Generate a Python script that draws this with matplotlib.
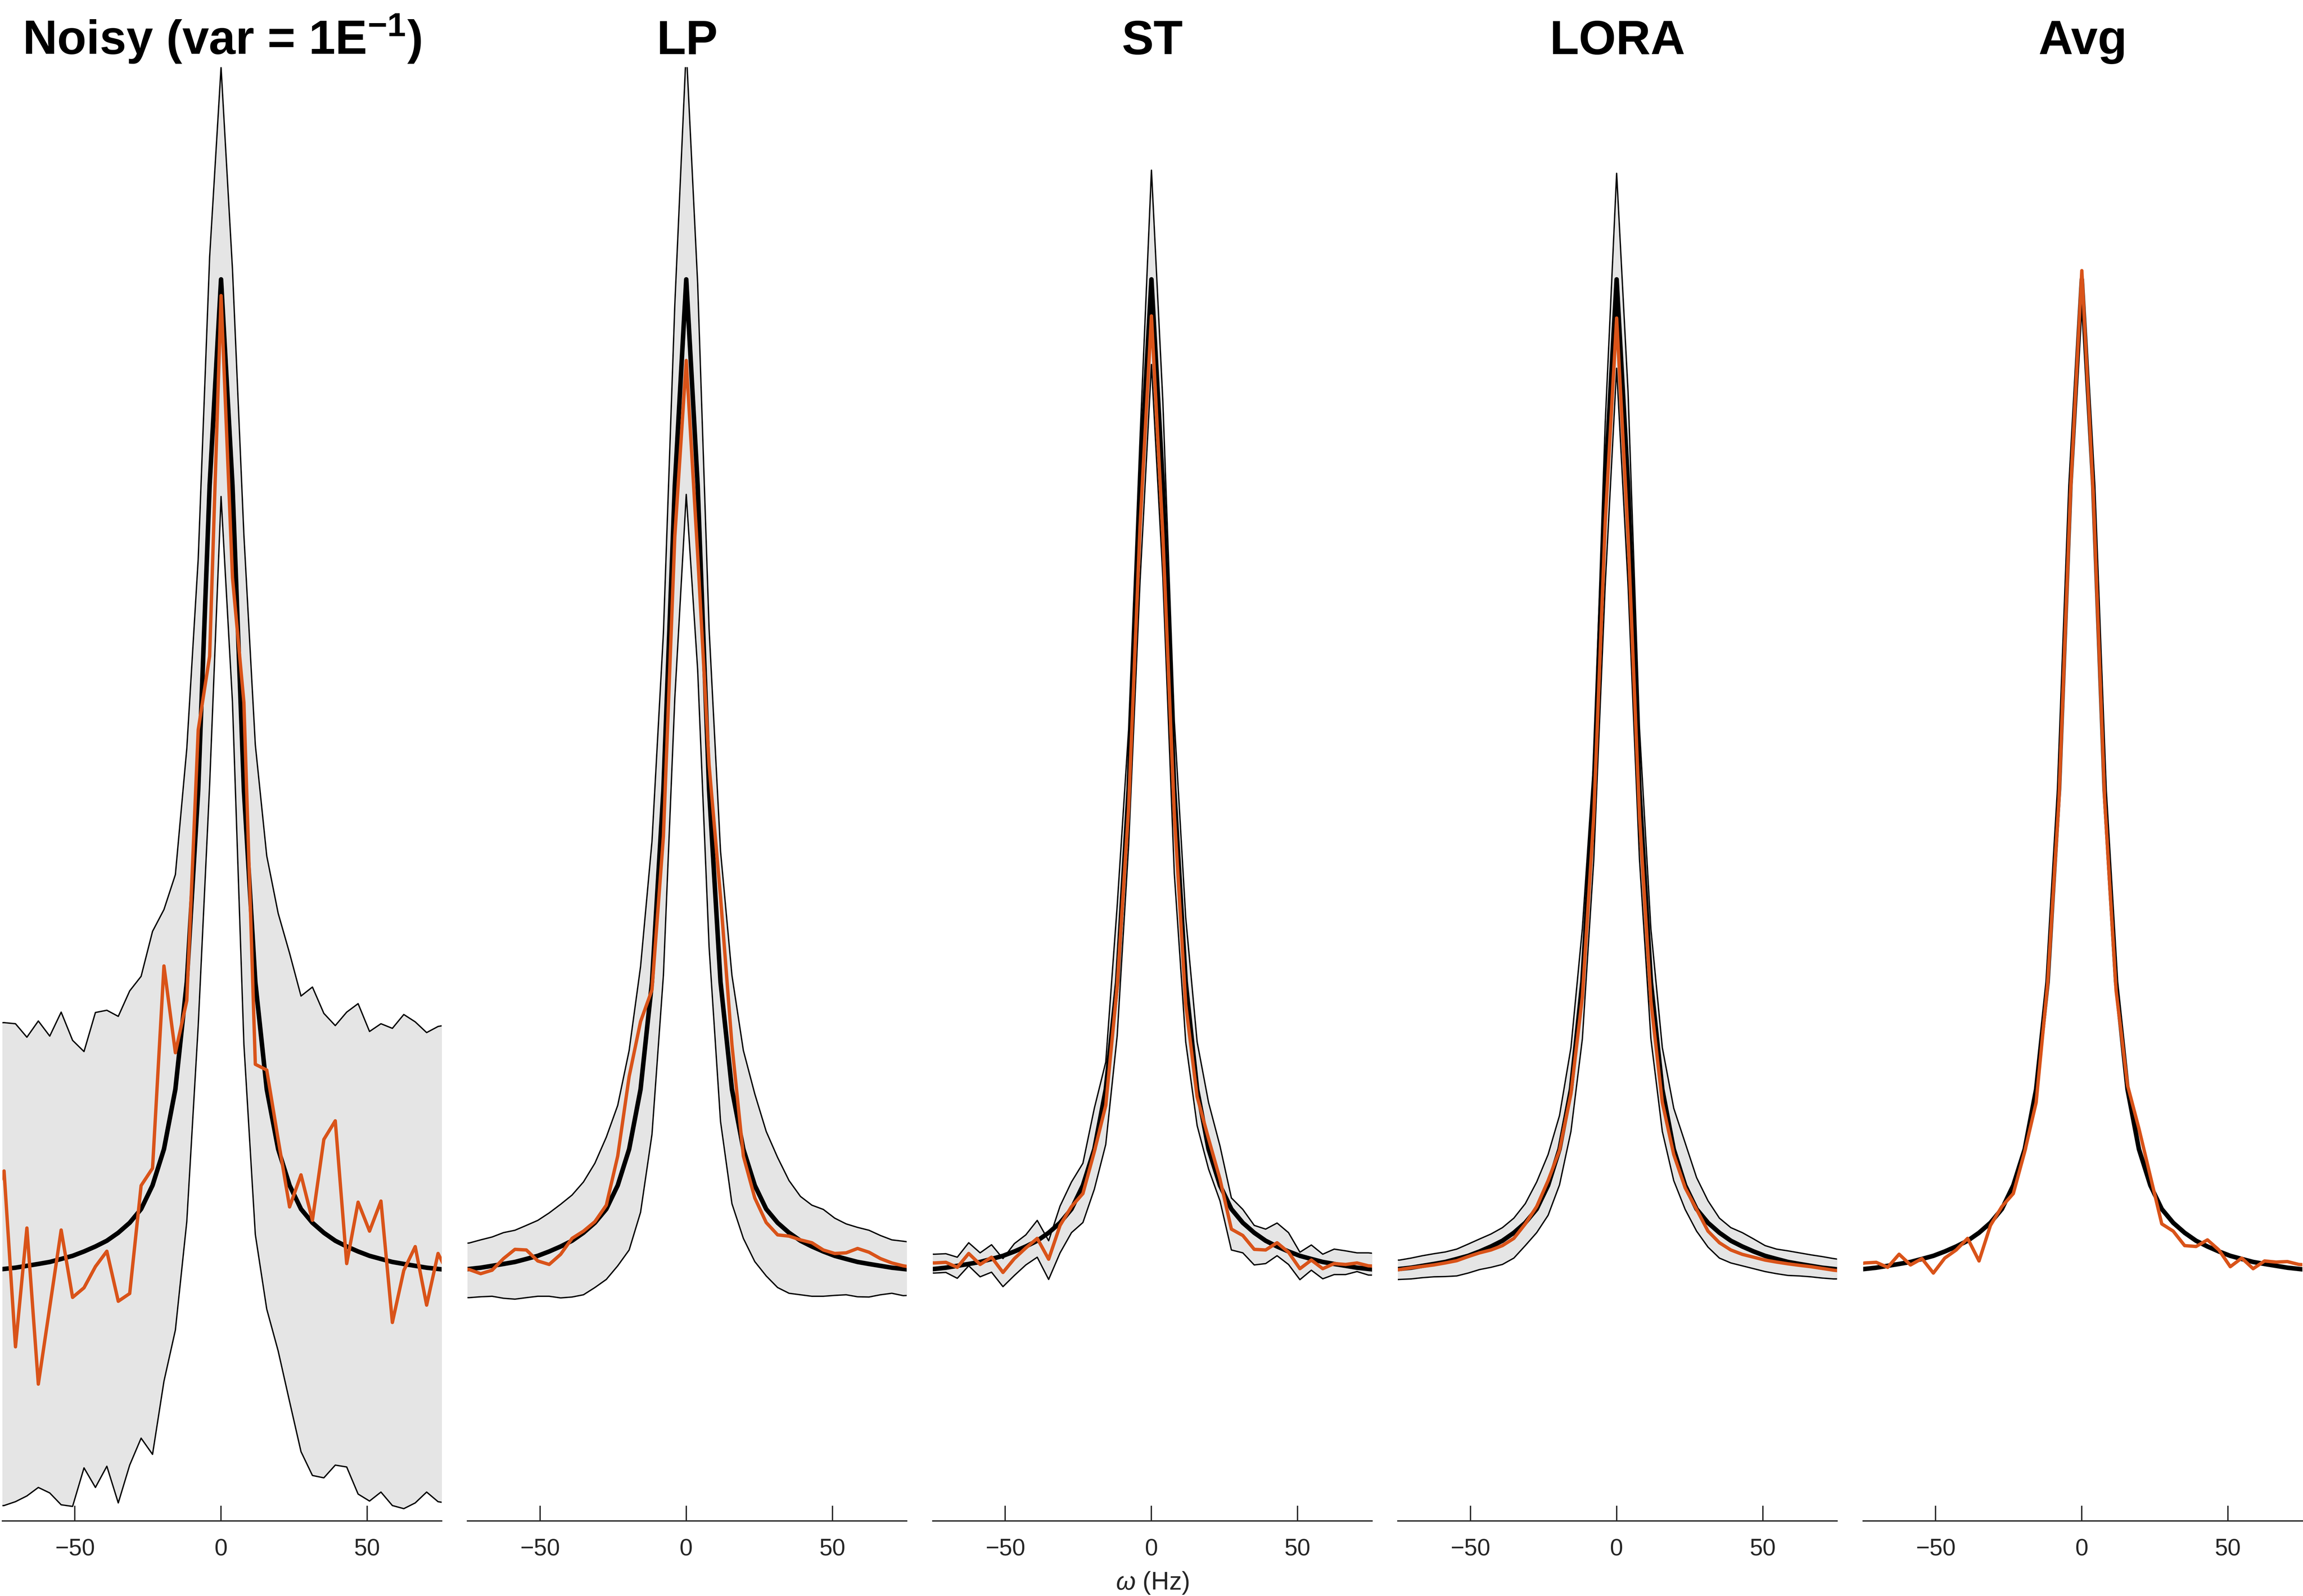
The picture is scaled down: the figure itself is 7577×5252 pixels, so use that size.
import matplotlib.pyplot as plt
import numpy as np

plt.rcParams['font.family'] = ['Liberation Sans', 'DejaVu Sans']
plt.rcParams['mathtext.fontset'] = 'custom'
plt.rcParams['mathtext.rm'] = 'Liberation Sans'
plt.rcParams['mathtext.it'] = 'Liberation Sans:italic'
plt.rcParams['mathtext.bf'] = 'Liberation Sans:bold'

# frequency bins (Hz), k = -20 .. 20, bin width 1000/256 Hz
freq = np.arange(-20, 21) * 3.90625

titles = [r'Noisy (var = 1E$^{\mathbf{-1}}$)', 'LP', 'ST', 'LORA', 'Avg']

# true spectrum (same in every panel)
true_spec = [0.201, 0.202, 0.203, 0.2045, 0.206, 0.2076, 0.210, 0.2125, 0.216, 0.220,
             0.2246, 0.231, 0.239, 0.250, 0.269, 0.298, 0.346, 0.432, 0.586, 0.830,
             0.995,
             0.830, 0.586, 0.432, 0.346, 0.298, 0.269, 0.250, 0.239, 0.231, 0.2246,
             0.220, 0.216, 0.2125, 0.210, 0.2076, 0.206, 0.2045, 0.203, 0.202, 0.201]

# Noisy
noisy_est = [0.254, 0.2805, 0.1396, 0.2348, 0.1097, 0.1714, 0.2332, 0.1792, 0.1869, 0.2039,
             0.2162, 0.1761, 0.1823, 0.2688, 0.2827, 0.4448, 0.3753, 0.417, 0.634, 0.693,
             0.982,
             0.756, 0.656, 0.366, 0.3614, 0.3058, 0.2517, 0.2774, 0.241, 0.3058, 0.3207,
             0.2063, 0.2555, 0.2323, 0.2564, 0.1591, 0.2008, 0.2199, 0.173, 0.2144, 0.196]
noisy_upper = [0.399, 0.3994, 0.3985, 0.3877, 0.4007, 0.3886, 0.4078, 0.3852, 0.3762, 0.4075,
               0.4093, 0.4044, 0.4248, 0.4365, 0.4725, 0.490, 0.518, 0.619, 0.771, 1.013,
               1.165,
               1.003, 0.790, 0.622, 0.533, 0.487, 0.455, 0.4207, 0.4279, 0.4068, 0.397,
               0.4078, 0.4146, 0.3923, 0.3985, 0.3948, 0.4059, 0.400, 0.3914, 0.3963, 0.398]
noisy_lower = [0.012, 0.0124, 0.0155, 0.0201, 0.0269, 0.0225, 0.013, 0.0117, 0.0426, 0.0269,
               0.0439, 0.0145, 0.0448, 0.0664, 0.0534, 0.112, 0.153, 0.240, 0.397, 0.590,
               0.821,
               0.656, 0.382, 0.2296, 0.1698, 0.1363, 0.0957, 0.0556, 0.0365, 0.0346, 0.0448,
               0.0433, 0.0216, 0.016, 0.0232, 0.0124, 0.0099, 0.0145, 0.0232, 0.0155, 0.014]

# LP
lp_est = [0.203, 0.2015, 0.1982, 0.201, 0.2103, 0.2177, 0.2172, 0.2084, 0.2056, 0.2137,
          0.2265, 0.2323, 0.2399, 0.2531, 0.2925, 0.3562, 0.4003, 0.4257, 0.5486, 0.789,
          0.930,
          0.7745, 0.606, 0.500, 0.3817, 0.2925, 0.2589, 0.2392, 0.2293, 0.2283, 0.2253,
          0.223, 0.2172, 0.2144, 0.2149, 0.2184, 0.2154, 0.2103, 0.2068, 0.2045, 0.203]
lp_upper = [0.222, 0.2228, 0.2253, 0.2276, 0.2311, 0.233, 0.2369, 0.2409, 0.2469, 0.2538,
            0.2612, 0.2717, 0.2867, 0.3076, 0.3331, 0.3771, 0.4443, 0.5447, 0.7116, 0.975,
            1.180,
            0.9915, 0.715, 0.537, 0.4373, 0.3771, 0.3423, 0.3122, 0.2913, 0.2728, 0.2601,
            0.2531, 0.2497, 0.2427, 0.2381, 0.2353, 0.233, 0.2288, 0.2253, 0.2242, 0.223]
lp_lower = [0.179, 0.179, 0.1797, 0.1801, 0.1785, 0.1778, 0.179, 0.1801, 0.1801, 0.1788,
            0.1795, 0.1813, 0.1871, 0.1936, 0.2045, 0.2172, 0.2474, 0.3099, 0.4373, 0.6597,
            0.8227,
            0.682, 0.460, 0.3203, 0.2543, 0.2265, 0.2079, 0.1964, 0.1871, 0.1825, 0.1813,
            0.1801, 0.1801, 0.1808, 0.1813, 0.1797, 0.1795, 0.1813, 0.1825, 0.1806, 0.181]

# ST
st_est = [0.207, 0.2068, 0.2073, 0.2033, 0.2144, 0.2056, 0.2114, 0.1992, 0.2103, 0.2188,
          0.2265, 0.2098, 0.2369, 0.252, 0.2624, 0.296, 0.3331, 0.4281, 0.571, 0.797,
          0.9657,
          0.7897, 0.567, 0.4142, 0.340, 0.3064, 0.274, 0.2339, 0.2288, 0.2177, 0.2172,
          0.223, 0.2154, 0.2022, 0.2091, 0.2022, 0.2063, 0.2056, 0.2068, 0.2045, 0.204]
st_upper = [0.214, 0.2138, 0.2142, 0.2114, 0.223, 0.2149, 0.2214, 0.2103, 0.2223, 0.2293,
            0.2409, 0.2246, 0.2524, 0.2717, 0.2867, 0.3308, 0.3678, 0.493, 0.634, 0.8675,
            1.0825,
            0.8972, 0.6414, 0.4837, 0.384, 0.3354, 0.3006, 0.2589, 0.2497, 0.2369, 0.2339,
            0.2388, 0.2311, 0.2154, 0.2212, 0.2138, 0.2179, 0.2165, 0.2149, 0.2149, 0.214]
st_lower = [0.199, 0.1987, 0.1992, 0.1945, 0.2045, 0.1957, 0.1994, 0.1878, 0.1968, 0.2052,
            0.2114, 0.1936, 0.2149, 0.2311, 0.2392, 0.2659, 0.3018, 0.3887, 0.541, 0.7526,
            0.9268,
            0.756, 0.519, 0.384, 0.3169, 0.2821, 0.2566, 0.2172, 0.2149, 0.2052, 0.2063,
            0.2126, 0.2056, 0.1934, 0.201, 0.1941, 0.1975, 0.1975, 0.1999, 0.1971, 0.197]

# LORA
lora_est = [0.201, 0.2015, 0.2029, 0.204, 0.2052, 0.2068, 0.2086, 0.2119, 0.2149, 0.2172,
            0.2207, 0.2265, 0.2381, 0.252, 0.2728, 0.2971, 0.3423, 0.420, 0.565, 0.800,
            0.964,
            0.790, 0.565, 0.4165, 0.3354, 0.2937, 0.267, 0.2497, 0.2323, 0.223, 0.2172,
            0.2137, 0.2114, 0.2091, 0.2075, 0.2061, 0.2049, 0.2038, 0.2024, 0.201, 0.200]
lora_upper = [0.209, 0.2091, 0.2107, 0.2126, 0.2142, 0.2156, 0.2179, 0.2219, 0.226, 0.230,
              0.2351, 0.2427, 0.2543, 0.2717, 0.2937, 0.325, 0.3794, 0.475, 0.610, 0.880,
              1.080,
              0.905, 0.635, 0.4744, 0.3794, 0.3308, 0.303, 0.2752, 0.2566, 0.2427, 0.2351,
              0.2311, 0.226, 0.2207, 0.2179, 0.2165, 0.2149, 0.2133, 0.2119, 0.2103, 0.209]
lora_lower = [0.193, 0.1936, 0.194, 0.195, 0.1957, 0.1959, 0.1964, 0.1987, 0.2015, 0.2033,
              0.2056, 0.2107, 0.2207, 0.2311, 0.245, 0.2694, 0.3122, 0.3864, 0.530, 0.750,
              0.9238,
              0.750, 0.530, 0.3864, 0.3122, 0.2728, 0.2497, 0.2323, 0.2195, 0.2107, 0.2068,
              0.2045, 0.2022, 0.1999, 0.1982, 0.1968, 0.1964, 0.1957, 0.1947, 0.194, 0.194]

# Avg (no band)
avg_est = [0.205, 0.2068, 0.2073, 0.2033, 0.2138, 0.2052, 0.2103, 0.1987, 0.2107, 0.2172,
           0.2265, 0.2084, 0.2369, 0.252, 0.2624, 0.296, 0.3354, 0.430, 0.578, 0.823,
           1.002,
           0.823, 0.578, 0.425, 0.3493, 0.3145, 0.2763, 0.2381, 0.2323, 0.2207, 0.220,
           0.2253, 0.2172, 0.2038, 0.2107, 0.2022, 0.2084, 0.2075, 0.2079, 0.2056, 0.205]

estimates = [noisy_est, lp_est, st_est, lora_est, avg_est]
uppers = [noisy_upper, lp_upper, st_upper, lora_upper, None]
lowers = [noisy_lower, lp_lower, st_lower, lora_lower, None]

orange = '#D95319'
axcol = '#262626'

W, H = 7616, 5279
fig = plt.figure(figsize=(W / 400, H / 400), dpi=400)

axes = []
for i in range(5):
    zero_px = 731 + 1538.2 * i
    left = (zero_px - 723.2) / W
    ax = fig.add_axes([left, 248 / H, 1452.1 / W, 4808 / H])
    axes.append(ax)

    if uppers[i] is not None:
        ax.fill_between(freq, lowers[i], uppers[i], color='#E5E5E5', lw=0)
        ax.plot(freq, uppers[i], color='k', lw=0.8)
        ax.plot(freq, lowers[i], color='k', lw=0.8)
    ax.plot(freq, true_spec, color='k', lw=2.7)
    ax.plot(freq, estimates[i], color=orange, lw=2.0)

    ax.set_xlim(-74.8, 75.4)
    ax.set_ylim(0, 1.165)
    ax.set_xticks([-50, 0, 50])
    ax.set_yticks([])
    for s in ['top', 'right', 'left']:
        ax.spines[s].set_visible(False)
    ax.spines['bottom'].set_color(axcol)
    ax.spines['bottom'].set_linewidth(0.8)
    ax.tick_params(axis='x', direction='in', length=9, width=0.8,
                   colors=axcol, labelsize=14, pad=10)
    ax.set_title(titles[i], fontsize=28.5, fontweight='bold', pad=8)

axes[2].set_xlabel(r'$\it{\omega}$ (Hz)', fontsize=15, color=axcol)
axes[2].xaxis.set_label_coords(0.5, -0.034)

# slightly under 400 dpi keeps the png below 40 Mpx
fig.savefig('out.png', dpi=398)
